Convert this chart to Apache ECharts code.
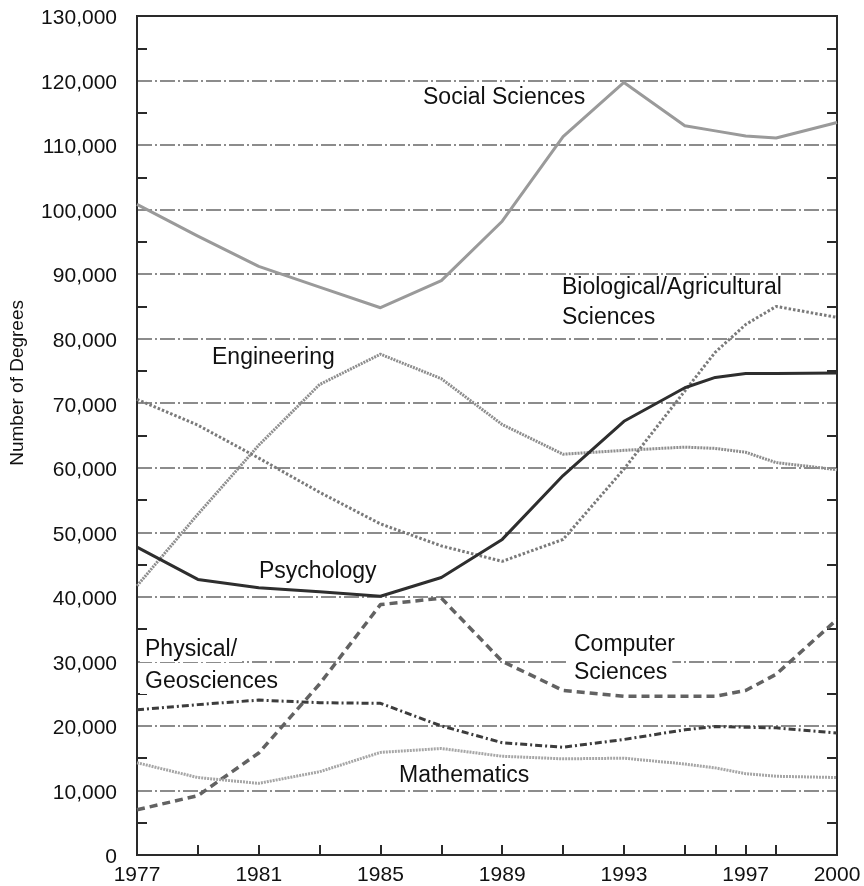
<!DOCTYPE html>
<html>
<head>
<meta charset="utf-8">
<script src="https://cdn.jsdelivr.net/npm/echarts@6/dist/echarts.min.js"></script>
<style>
  html, body { margin: 0; padding: 0; background: #fff; }
  #chart { width: 864px; height: 886px; }
</style>
</head>
<body>
<div id="chart"></div>
<script>
// Degrees awarded by field, 1977–2000
const years = [1977, 1979, 1981, 1983, 1985, 1987, 1989, 1991, 1993, 1995, 1996, 1997, 1998, 2000];

const socialSciences = [100800, 95900, 91200, 88000, 84800, 89000, 98200, 111300, 119700, 113000, 112200, 111400, 111100, 113500];
const engineering    = [41700, 52800, 63500, 72900, 77600, 73800, 66700, 62100, 62700, 63200, 63000, 62400, 60800, 59700];
const biological     = [70600, 66600, 61500, 56200, 51300, 47900, 45500, 48900, 59800, 71900, 77900, 82200, 85000, 83300];
const psychology     = [47700, 42700, 41400, 40800, 40100, 43000, 48900, 58800, 67200, 72400, 74000, 74600, 74600, 74700];
const computer       = [7000, 9200, 15800, 26500, 38800, 39800, 30000, 25500, 24600, 24600, 24600, 25500, 28000, 36500];
const physical       = [22500, 23300, 24000, 23600, 23500, 20000, 17400, 16700, 17900, 19400, 19900, 19800, 19700, 18900];
const mathematics    = [14300, 12000, 11100, 12900, 15900, 16500, 15300, 14900, 15000, 14100, 13500, 12600, 12200, 12000];

const xTickYears  = [1979, 1981, 1983, 1985, 1987, 1989, 1991, 1993, 1995, 1996, 1997, 1998];
const xLabelYears = [1977, 1981, 1985, 1989, 1993, 1997, 2000];

const FONT = '"Liberation Sans", Arial, Helvetica, sans-serif';

function pairs(values) {
  return years.map((y, i) => [y, values[i]]);
}

function line(name, values, color, width, type) {
  return {
    name: name,
    type: 'line',
    data: pairs(values),
    symbol: 'none',
    smooth: false,
    lineStyle: { color: color, width: width, type: type, cap: 'butt', join: 'round' },
    z: 3
  };
}

const chart = echarts.init(document.getElementById('chart'), null, { renderer: 'canvas' });

const yAxisBase = {
  type: 'value',
  min: 0,
  max: 130000,
  interval: 10000,
  axisLine: { show: true, onZero: false, lineStyle: { color: '#2a2a2a', width: 2 } },
  axisTick: { show: false, inside: true },
  minorTick: { show: true, splitNumber: 2, length: 10, lineStyle: { color: '#2a2a2a', width: 2 } },
  minorSplitLine: { show: false }
};

// One text box per line, so each white box is only as wide as its own line
function annotation(text, x, y) {
  return {
    type: 'text',
    left: x,
    top: y,
    z: 1,
    style: {
      text: text,
      font: '23px ' + FONT,
      fill: '#111',
      backgroundColor: '#fff',
      padding: [1, 5, 1, 5]
    }
  };
}

chart.setOption({
  animation: false,
  backgroundColor: '#fff',
  grid: {
    left: 137, right: 27, top: 16, bottom: 30,
    show: true, borderColor: '#2a2a2a', borderWidth: 2, backgroundColor: 'transparent'
  },
  xAxis: {
    type: 'value',
    min: 1977,
    max: 2000,
    interval: 1,
    axisLine: { show: true, onZero: false, lineStyle: { color: '#2a2a2a', width: 2 } },
    axisTick: {
      show: true, inside: true, length: 10, customValues: xTickYears,
      lineStyle: { color: '#2a2a2a', width: 2 }
    },
    axisLabel: {
      show: true, customValues: xLabelYears, margin: 10,
      fontSize: 21, color: '#111', fontFamily: FONT,
      formatter: v => String(v)
    },
    splitLine: { show: false }
  },
  yAxis: [
    Object.assign({}, yAxisBase, {
      position: 'left',
      axisLabel: {
        show: true, margin: 20, fontSize: 21, color: '#111', fontFamily: FONT,
        verticalAlign: 'top',
        padding: [-8, 0, 0, 0],
        formatter: v => v.toLocaleString('en-US')
      },
      splitLine: {
        show: true, showMinLine: false, showMaxLine: false,
        lineStyle: { color: '#8c8c8c', width: 2, type: [15, 3, 2, 3] }
      }
    }),
    Object.assign({}, yAxisBase, {
      position: 'right',
      axisLabel: { show: false },
      splitLine: { show: false }
    })
  ],
  series: [
    line('Social Sciences', socialSciences, '#9a9a9a', 3, 'solid'),
    line('Engineering', engineering, '#8e8e8e', 3, [2, 1]),
    line('Biological/Agricultural Sciences', biological, '#7a7a7a', 3, [2.5, 2]),
    line('Psychology', psychology, '#2e2e2e', 3, 'solid'),
    line('Computer Sciences', computer, '#626262', 3.5, [8, 5]),
    line('Physical/Geosciences', physical, '#3c3c3c', 3, [7, 3, 2, 3]),
    line('Mathematics', mathematics, '#a6a6a6', 3, [2, 1])
  ],
  graphic: [
    annotation('Social Sciences', 418, 85),
    annotation('Biological/Agricultural', 557, 275),
    annotation('Sciences', 557, 305),
    annotation('Engineering', 207, 345),
    annotation('Psychology', 254, 559),
    annotation('Physical/', 140, 637),
    annotation('Geosciences', 140, 669),
    annotation('Computer', 569, 632),
    annotation('Sciences', 569, 660),
    annotation('Mathematics', 394, 763),
    {
      type: 'text',
      left: 8,
      top: 300,
      rotation: Math.PI / 2,
      z: 50,
      style: { text: 'Number of Degrees', font: '19px ' + FONT, fill: '#111' }
    }
  ]
});
</script>
</body>
</html>
